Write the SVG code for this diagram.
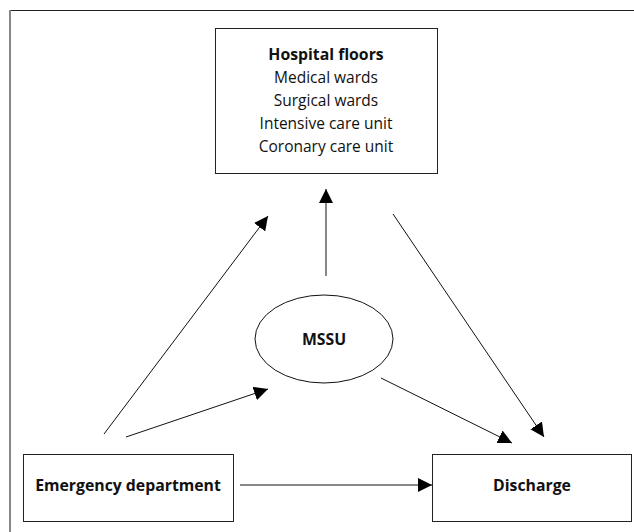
<svg xmlns="http://www.w3.org/2000/svg" width="634" height="532" viewBox="0 0 634 532">
<defs>
<marker id="ah" markerUnits="userSpaceOnUse" markerWidth="14" markerHeight="14" refX="14" refY="7" orient="auto">
<path d="M0,0 L14,7 L0,14 z" fill="#000"/>
</marker>
<style>
.box{fill:#fff;stroke:#222;stroke-width:1}
.t{font-family:"Open Sans","Noto Sans","Liberation Sans",sans-serif;font-size:15.5px;fill:#111;text-anchor:middle}
.b{font-weight:bold;font-size:15.8px}
.c{stroke:#111;stroke-width:1;fill:none;marker-end:url(#ah)}
</style>
</defs>
<rect width="634" height="532" fill="#fff"/>
<g id="frame">
<line x1="9" y1="10.5" x2="634" y2="10.5" stroke="#222" stroke-width="1.2"/>
<line x1="10" y1="10" x2="10" y2="532" stroke="#888" stroke-width="2"/>
</g>
<g id="hospital">
<rect class="box" x="215.5" y="28.5" width="222" height="145"/>
<text class="t b" x="326" y="60">Hospital floors</text>
<text class="t" x="326" y="83">Medical wards</text>
<text class="t" x="326" y="106">Surgical wards</text>
<text class="t" x="326" y="129">Intensive care unit</text>
<text class="t" x="326" y="152">Coronary care unit</text>
</g>
<g id="mssu">
<ellipse cx="324" cy="339" rx="69" ry="44" fill="#fff" stroke="#111" stroke-width="1"/>
<text class="t b" x="324" y="345">MSSU</text>
</g>
<g id="emergency">
<rect class="box" x="23.5" y="454.5" width="210" height="67"/>
<text class="t b" x="128" y="491">Emergency department</text>
</g>
<g id="discharge">
<rect class="box" x="432.5" y="454.5" width="199" height="67"/>
<text class="t b" x="532" y="491">Discharge</text>
</g>
<g id="connectors">
<line class="c" x1="104" y1="434" x2="268" y2="216"/>
<line class="c" x1="126" y1="437" x2="268" y2="389"/>
<line class="c" x1="326" y1="276" x2="326" y2="189"/>
<line class="c" x1="393" y1="214" x2="544" y2="437"/>
<line class="c" x1="381" y1="378" x2="512" y2="443"/>
<line class="c" x1="240" y1="485" x2="432" y2="485"/>
</g>
</svg>
